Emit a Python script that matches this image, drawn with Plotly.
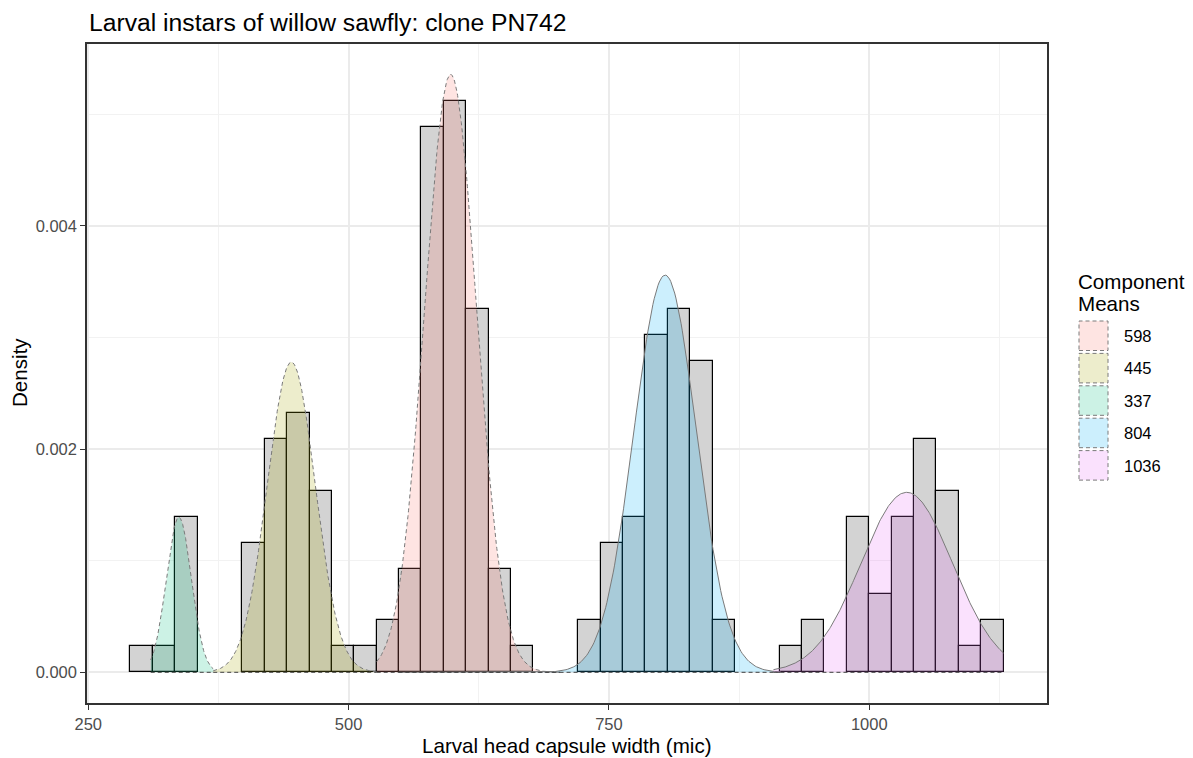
import numpy as np
import plotly.graph_objects as go

# ---------------- data ----------------
title_text = "Larval instars of willow sawfly: clone PN742"
x_title = "Larval head capsule width (mic)"
y_title = "Density"
legend_title_lines = ["Component", "Means"]

bin_start = 290.5
bin_width = 21.5
bin_counts = [1, 1, 6, 0, 0, 5, 9, 10, 7, 1,
              1, 2, 4, 21, 22, 14, 4, 1, 0, 0,
              2, 5, 6, 13, 14, 12, 2, 0, 0, 1,
              2, 0, 6, 3, 6, 9, 7, 1, 2]

comp_labels = ["598", "445", "337", "804", "1036"]
comp_means = [598, 445, 337, 804, 1036]
comp_sds = [25, 23, 12, 30, 44]
comp_weights = [0.3358, 0.1603, 0.0418, 0.2677, 0.1779]
comp_lo = [527, 370, 310, 548, 908]
comp_hi = [703, 527, 370, 915, 1129]

x_tickvals = [250, 500, 750, 1000]
x_ticktext = ["250", "500", "750", "1000"]
y_tickvals = [0, 0.002, 0.004]
y_ticktext = ["0.000", "0.002", "0.004"]

# ---------------- styles ----------------
comp_rgb = ["248,118,109", "163,165,0", "0,191,125", "0,176,246", "231,107,243"]
comp_dash = ["4px,3px", "4px,3px", "4px,3px", "solid", "solid"]
FONT = "Liberation Sans, Arial, sans-serif"
W, H = 1193, 758
L, T, PW, PH = 87, 44, 960, 659
R = W - L - PW
B = H - T - PH


def px2x(px):
    return (px - L) / PW


def py2y(py):
    return (T + PH - py) / PH


n_obs = sum(bin_counts)
centers = [bin_start + bin_width * (i + 0.5) for i in range(len(bin_counts))]
dens = [c / (n_obs * bin_width) if c > 0 else None for c in bin_counts]

fig = go.Figure()
fig.add_trace(go.Bar(
    x=centers, y=dens, width=bin_width,
    marker=dict(color="#D3D3D3", line=dict(color="black", width=1.2)),
    showlegend=False, hoverinfo="skip"))

for lab, m, s, w, lo, hi, rgb, dash in zip(comp_labels, comp_means, comp_sds,
                                           comp_weights, comp_lo, comp_hi,
                                           comp_rgb, comp_dash):
    xs = np.linspace(lo, hi, 300)
    ys = w / (np.sqrt(2 * np.pi) * s) * np.exp(-0.5 * ((xs - m) / s) ** 2)
    fig.add_trace(go.Scatter(
        x=list(xs) + [hi, lo], y=list(ys) + [0, 0], mode="lines",
        fill="toself", fillcolor=f"rgba({rgb},0.2)",
        line=dict(width=0, color="rgba(0,0,0,0)"),
        showlegend=False, hoverinfo="skip"))
    fig.add_trace(go.Scatter(
        x=xs, y=ys, mode="lines",
        line=dict(color="#7a7a7a", width=1, dash=dash),
        showlegend=False, hoverinfo="skip"))
    fig.add_trace(go.Scatter(
        x=[lo, hi], y=[0, 0], mode="lines",
        line=dict(color="#444444", width=1, dash="4px,3px"),
        showlegend=False, hoverinfo="skip"))

# ---------------- custom legend ----------------
shapes = []
annotations = []
key_top0 = 321
pitch = 32.4
for i, (lab, rgb) in enumerate(zip(comp_labels, comp_rgb)):
    top = key_top0 + pitch * i
    bot = top + 29.5
    shapes.append(dict(type="rect", xref="paper", yref="paper",
                       x0=px2x(1079), x1=px2x(1108), y0=py2y(bot), y1=py2y(top),
                       fillcolor=f"rgba({rgb},0.2)",
                       line=dict(color="#7a7a7a", width=1, dash="4px,3px"),
                       layer="above"))
    annotations.append(dict(text=lab, xref="paper", yref="paper",
                            x=px2x(1122), y=py2y(top + 15), xanchor="left",
                            yanchor="middle", showarrow=False,
                            font=dict(family=FONT, size=16.5, color="black")))

for j, line_txt in enumerate(legend_title_lines):
    annotations.append(dict(text=line_txt, xref="paper", yref="paper",
                            x=px2x(1076), y=py2y(281.5 + 21.5 * j),
                            xanchor="left", yanchor="middle",
                            align="left", showarrow=False,
                            font=dict(family=FONT, size=20.6, color="black")))
annotations.append(dict(text=title_text, xref="paper", yref="paper",
                        x=px2x(87), y=py2y(22), xanchor="left", yanchor="middle",
                        showarrow=False,
                        font=dict(family=FONT, size=24.7, color="black")))
annotations.append(dict(text=x_title, xref="paper", yref="paper",
                        x=px2x(567), y=py2y(745), xanchor="center",
                        yanchor="middle", showarrow=False,
                        font=dict(family=FONT, size=20.6, color="black")))
annotations.append(dict(text=y_title, xref="paper", yref="paper",
                        x=px2x(19), y=py2y(373), xanchor="center",
                        yanchor="middle", showarrow=False, textangle=-90,
                        font=dict(family=FONT, size=20.6, color="black")))

axis_common = dict(showline=True, linecolor="#333333", linewidth=1.5, mirror=True,
                   ticks="outside", ticklen=5, tickwidth=1.3, tickcolor="#333333",
                   gridcolor="#EBEBEB", gridwidth=1.5, zeroline=False,
                   tickfont=dict(family=FONT, size=16.5, color="#4D4D4D"),
                   minor=dict(showgrid=True, gridcolor="#F2F2F2", gridwidth=0.8,
                              ticks=""))

fig.update_layout(
    width=W, height=H, margin=dict(l=L, r=R, t=T, b=B),
    paper_bgcolor="white", plot_bgcolor="white",
    barmode="overlay", bargap=0,
    showlegend=False,
    xaxis=dict(range=[248.8, 1170.7], tickvals=x_tickvals, ticktext=x_ticktext,
               **axis_common),
    yaxis=dict(range=[-0.000275, 0.005631], tickvals=y_tickvals,
               ticktext=y_ticktext, **axis_common),
    shapes=shapes, annotations=annotations,
)
fig.update_xaxes(minor=dict(tickvals=[375, 625, 875, 1125]))
fig.update_yaxes(minor=dict(tickvals=[0.001, 0.003, 0.005]))

fig.write_html("out.html")
